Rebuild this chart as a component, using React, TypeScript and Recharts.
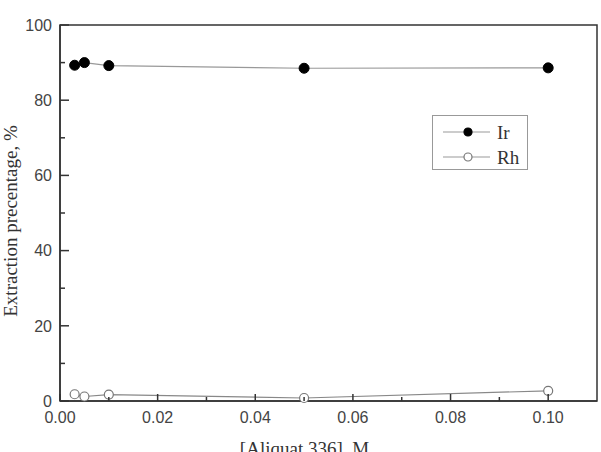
import React from 'react';
import { LineChart, Line, XAxis, YAxis, Legend, Label, ReferenceArea } from 'recharts';

const concentrations = [0.003, 0.005, 0.01, 0.05, 0.1];
const irValues = [89.3, 90.0, 89.2, 88.5, 88.6];
const rhValues = [1.8, 1.2, 1.7, 0.8, 2.7];
const xTicks = [0, 0.01, 0.02, 0.03, 0.04, 0.05, 0.06, 0.07, 0.08, 0.09, 0.1];
const yTicks = [0, 10, 20, 30, 40, 50, 60, 70, 80, 90, 100];
const xDomain = [0, 0.11];
const yDomain = [0, 100];
const seriesNames = ['Ir', 'Rh'];

const data = concentrations.map((x, i) => ({ x, Ir: irValues[i], Rh: rhValues[i] }));

const SANS = '"Liberation Sans", Arial, sans-serif';
const SERIF = '"Liberation Serif", "Times New Roman", serif';
const AXIS = '#333';
const TICKTXT = '#444';

const XTick = (props: any) => {
  const { x, y, payload } = props;
  const v = payload.value;
  const major = Math.round(v * 100) % 2 === 0;
  return (
    <g>
      <line x1={x} x2={x} y1={y} y2={y - (major ? 7 : 4)} stroke={AXIS} strokeWidth={1.5} />
      {major && (
        <text x={x} y={y + 22} textAnchor="middle" fontFamily={SANS} fontSize={16} fill={TICKTXT}>
          {v.toFixed(2)}
        </text>
      )}
    </g>
  );
};

const YTick = (props: any) => {
  const { x, y, payload } = props;
  const v = payload.value;
  const major = v % 20 === 0;
  return (
    <g>
      <line x1={x} x2={x + (major ? 9 : 5)} y1={y} y2={y} stroke={AXIS} strokeWidth={1.5} />
      {major && (
        <text x={x - 8} y={y} dy="0.36em" textAnchor="end" fontFamily={SANS} fontSize={16} fill={TICKTXT}>
          {v}
        </text>
      )}
    </g>
  );
};

const LegendBox = () => (
  <svg width={96} height={55} style={{ display: 'block' }}>
    <rect x={0.5} y={0.5} width={95} height={54} fill="#fff" stroke="#999" strokeWidth={1} />
    {seriesNames.map((name, i) => {
      const cy = 17 + i * 25;
      return (
        <g key={name}>
          <line x1={11} x2={58} y1={cy} y2={cy} stroke="#999" strokeWidth={1.2} />
          <circle cx={36} cy={cy} r={4} fill={i === 0 ? '#000' : '#fff'} stroke={i === 0 ? '#000' : '#777'} strokeWidth={1.2} />
          <text x={65} y={cy} dy="0.35em" fontFamily={SERIF} fontSize={19} fill="#333">
            {name}
          </text>
        </g>
      );
    })}
  </svg>
);

export default function App() {
  return (
    <div style={{ position: 'absolute', left: 0, top: 0, background: '#fff' }}>
      <LineChart width={601} height={452} data={data} margin={{ top: 25, right: 4, left: 0, bottom: 0 }}>
        <ReferenceArea
          x1={xDomain[0]}
          x2={xDomain[1]}
          y1={yDomain[0]}
          y2={yDomain[1]}
          fill="none"
          fillOpacity={0}
          stroke={AXIS}
          strokeWidth={1.5}
          ifOverflow="visible"
        />
        <XAxis
          dataKey="x"
          type="number"
          domain={xDomain}
          ticks={xTicks}
          interval={0}
          height={51}
          tickSize={0}
          tickMargin={0}
          tickLine={false}
          tick={<XTick />}
          axisLine={{ stroke: AXIS, strokeWidth: 1.5 }}
        >
          <Label
            value="[Aliquat 336], M"
            position="insideBottom"
            offset={-3}
            dx={-24}
            style={{ fontFamily: SERIF, fontSize: 19, fill: '#333' }}
          />
        </XAxis>
        <YAxis
          type="number"
          domain={yDomain}
          ticks={yTicks}
          interval={0}
          width={60}
          tickSize={0}
          tickMargin={0}
          tickLine={false}
          tick={<YTick />}
          axisLine={{ stroke: AXIS, strokeWidth: 1.5 }}
        >
          <Label
            content={(p: any) => {
              const vb = p.viewBox || { x: 0, y: 25, width: 60, height: 376 };
              const cx = 16.5;
              const cy = vb.y + vb.height / 2 + 8;
              return (
                <text
                  x={cx}
                  y={cy}
                  textAnchor="middle"
                  transform={`rotate(-90, ${cx}, ${cy})`}
                  fontFamily={SERIF}
                  fontSize={19}
                  fill="#333"
                >
                  Extraction precentage, %
                </text>
              );
            }}
          />
        </YAxis>
        <Legend
          layout="horizontal"
          verticalAlign="middle"
          align="center"
          content={() => <LegendBox />}
          wrapperStyle={{ position: 'absolute', left: 432, top: 115, width: 96, height: 55 }}
        />
        <Line
          dataKey="Ir"
          name="Ir"
          stroke="#999"
          strokeWidth={1.2}
          dot={{ r: 5, fill: '#000', stroke: '#000', strokeWidth: 1 }}
          isAnimationActive={false}
        />
        <Line
          dataKey="Rh"
          name="Rh"
          stroke="#888"
          strokeWidth={1.2}
          dot={{ r: 4.5, fill: '#fff', stroke: '#777', strokeWidth: 1.2 }}
          isAnimationActive={false}
        />
      </LineChart>
    </div>
  );
}
